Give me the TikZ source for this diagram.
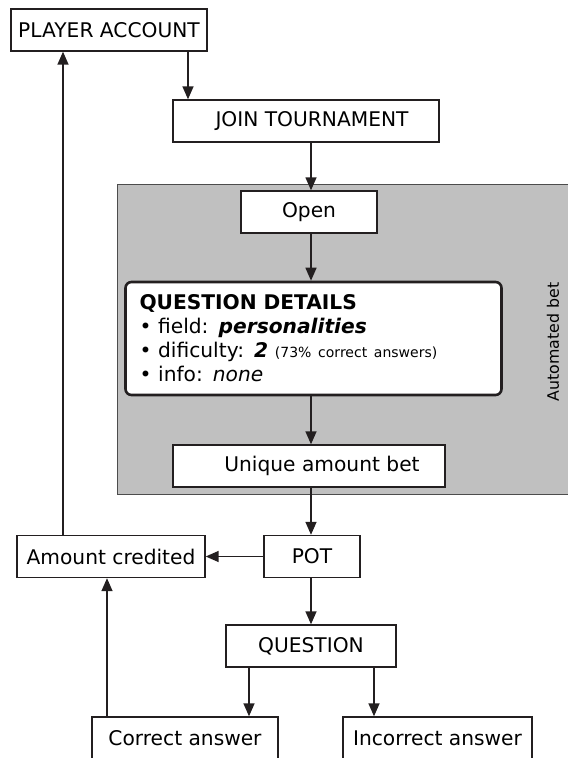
\documentclass[tikz,border=0pt]{standalone}
\usepackage{fontspec}
\setmainfont{DejaVu Sans}
\usetikzlibrary{positioning,calc,arrows.meta}
\definecolor{ink}{RGB}{35,31,32}
\definecolor{panel}{RGB}{192,192,192}

\begin{document}
\begin{tikzpicture}[
        x=0.5pt, y=-0.5pt,
        font=\fontsize{10.1}{12}\selectfont,
        box/.style={draw=ink, line width=0.7pt, fill=white, minimum height=21pt, inner sep=0pt},
        detail/.style={draw=ink, line width=1.3pt, fill=white, rounded corners=3pt, text width=174pt, align=left, minimum height=56.5pt, inner xsep=7pt, inner ysep=0pt},
        arr/.style={draw=ink, line width=0.75pt, -{Triangle[length=6.5pt, width=5.5pt]}}
    ]

    \useasboundingbox (0,0) rectangle (568,758);

    % Automated part (runs off the right edge)
    \fill[panel] (117,185) rectangle (568,494);
    \draw[black!70, line width=0.5pt] (568,185) -- (117,185) -- (117,494) -- (568,494);
    \node[rotate=90, font=\fontsize{7.9}{9}\selectfont] (auto) at (553,342) {Automated bet};

    % Define nodes
    \node[box, minimum width=98pt] (acct) at (109,30) {PLAYER ACCOUNT};
    \node[box, minimum width=133pt] (join) at (306,121) {\hspace*{6pt}JOIN TOURNAMENT};
    \node[box, minimum width=68pt] (open) at (309,212) {Open};
    \node[detail] (qd) at (313.5,338.5) {%
        {\bfseries QUESTION DETAILS}\\
        • field: \textbf{\textit{personalities}}\\
        • dificulty: \textbf{\textit{2}} {\fontsize{7}{8}\selectfont (73\% correct answers)}\\
        • info: \textit{none}};
    \node[box, minimum width=136pt] (ubet) at (309,466) {\hspace*{13pt}Unique amount bet};
    \node[box, minimum width=48pt] (pot) at (312,556.5) {POT};
    \node[box, minimum width=94pt] (cred) at (111,556.5) {Amount credited};
    \node[box, minimum width=85pt] (quest) at (311,646) {QUESTION};
    \node[box, minimum width=93pt] (corr) at (185,738) {Correct answer};
    \node[box, minimum width=94.5pt] (incorr) at (437.5,738) {Incorrect answer};

    % Columns the connectors run along
    \coordinate (spine) at (311,0);
    \coordinate (drop) at (188,0);
    \coordinate (back) at (63,0);
    \coordinate (win) at (107,0);
    \coordinate (yes) at (249,0);
    \coordinate (no) at (374,0);

    % Main flow
    \draw[arr] (acct.south -| drop) -- (join.north -| drop);
    \draw[arr] (join.south -| spine) -- (open.north -| spine);
    \draw[arr] (open.south -| spine) -- (qd.north -| spine);
    \draw[arr] (qd.south -| spine) -- (ubet.north -| spine);
    \draw[arr] (ubet.south -| spine) -- (pot.north -| spine);
    \draw[arr] (pot.south -| spine) -- (quest.north -| spine);

    % Answers and payout
    \draw[arr] (quest.south -| yes) -- (corr.north -| yes);
    \draw[arr] (quest.south -| no) -- (incorr.north -| no);
    \draw[arr] (pot.west) -- (cred.east);
    \draw[arr] (corr.north -| win) -- (cred.south -| win);
    \draw[arr] (cred.north -| back) -- (acct.south -| back);

\end{tikzpicture}
\end{document}
